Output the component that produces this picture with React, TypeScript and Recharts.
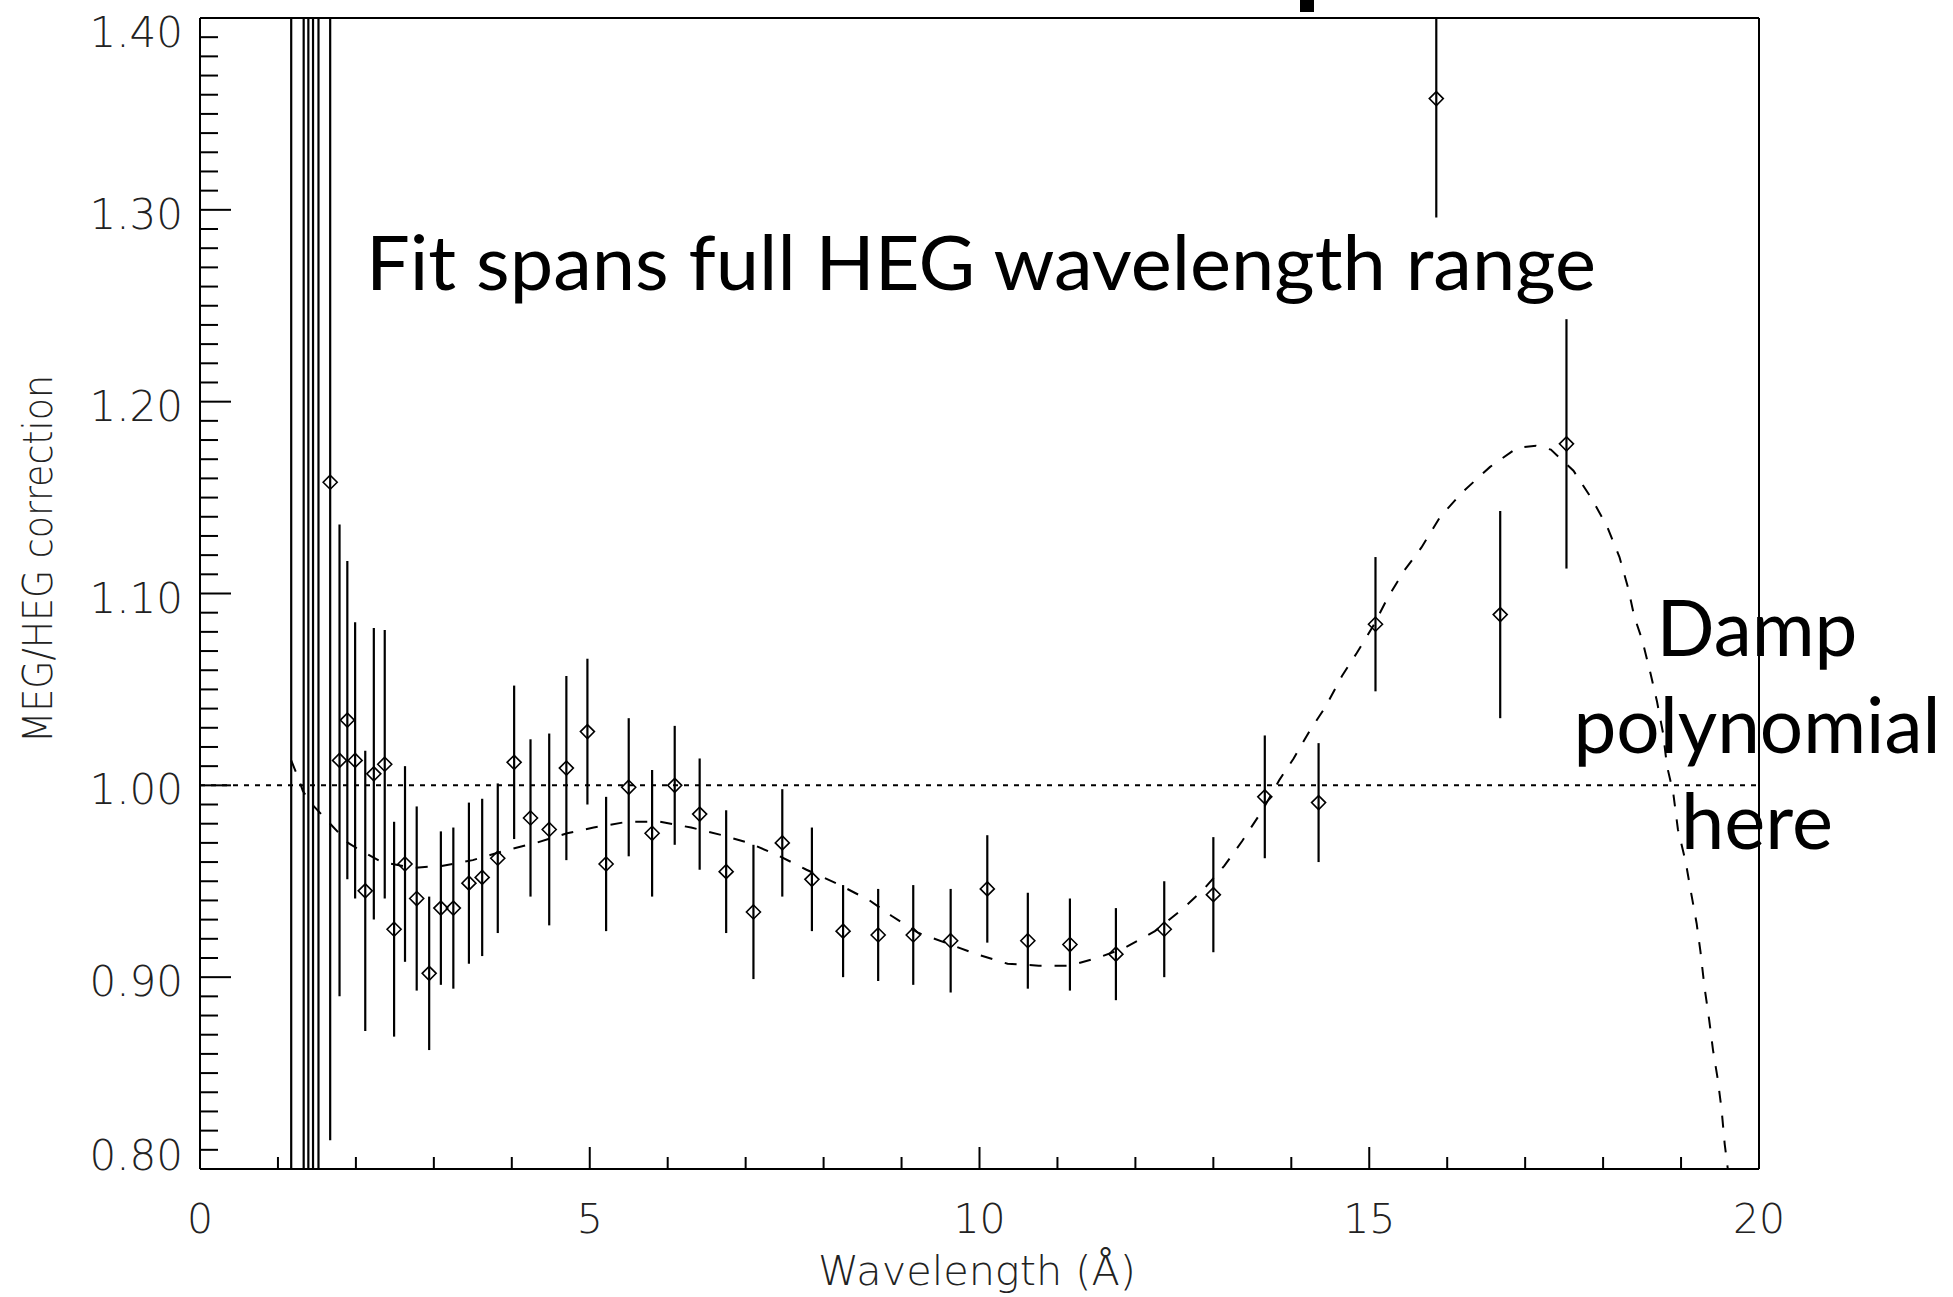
import React from 'react';
import {
  ComposedChart,
  Scatter,
  Line,
  XAxis,
  YAxis,
  ErrorBar,
  ReferenceLine
} from 'recharts';

// MEG/HEG ratio per wavelength bin (first five have centres off the plot)
const waveX = [
  1.17, 1.33, 1.39, 1.45, 1.52, 1.67, 1.79, 1.89, 1.99, 2.12,
  2.23, 2.37, 2.49, 2.63, 2.78, 2.94, 3.09, 3.25, 3.45, 3.62,
  3.82, 4.03, 4.24, 4.48, 4.70, 4.97, 5.21, 5.50, 5.80, 6.09,
  6.41, 6.75, 7.10, 7.47, 7.85, 8.25, 8.70, 9.15, 9.63, 10.10,
  10.62, 11.16, 11.75, 12.37, 13.00, 13.66, 14.35, 15.08, 15.86, 16.68,
  17.53
];
const ratioY = [
  1.78, 0.55, 1.66, 0.62, 1.52, 1.158, 1.013, 1.034, 1.013, 0.945,
  1.006, 1.011, 0.925, 0.959, 0.941, 0.902, 0.936, 0.936, 0.949, 0.952,
  0.962, 1.012, 0.983, 0.977, 1.009, 1.028, 0.959, 0.999, 0.975, 1.000,
  0.985, 0.955, 0.934, 0.970, 0.951, 0.924, 0.922, 0.922, 0.919, 0.946,
  0.919, 0.917, 0.912, 0.925, 0.943, 0.994, 0.991, 1.084, 1.358, 1.089,
  1.178
];
const ratioErr = [
  1.4, 0.95, 1.2, 0.85, 0.8, 0.343, 0.123, 0.083, 0.072, 0.073,
  0.076, 0.070, 0.056, 0.051, 0.048, 0.040, 0.040, 0.042, 0.042, 0.041,
  0.039, 0.040, 0.041, 0.050, 0.048, 0.038, 0.035, 0.036, 0.033, 0.031,
  0.029, 0.032, 0.035, 0.028, 0.027, 0.024, 0.024, 0.026, 0.027, 0.028,
  0.025, 0.024, 0.024, 0.025, 0.030, 0.032, 0.031, 0.035, 0.062, 0.054,
  0.065
];

// damped polynomial fit
const fitX = [
  1.17, 1.25, 1.32, 1.44, 1.67, 1.90, 2.02, 2.33, 2.73, 3.10,
  3.50, 3.91, 4.31, 4.71, 5.05, 5.48, 5.90, 6.30, 6.70, 7.04,
  7.44, 7.78, 8.16, 8.59, 8.87, 9.22, 9.56, 9.96, 10.36, 10.76,
  11.16, 11.51, 11.85, 12.25, 12.59, 12.88, 13.14, 13.37, 13.63, 13.85,
  14.03, 14.23, 14.44, 14.65, 14.84, 15.05, 15.24, 15.45, 15.67, 15.91,
  16.20, 16.55, 16.90, 17.14, 17.33, 17.62, 17.86, 18.05, 18.21, 18.32,
  18.40, 18.50, 18.61, 18.69, 18.77, 18.82, 18.90, 18.96, 19.06, 19.12,
  19.20, 19.25, 19.30, 19.36, 19.41, 19.47, 19.52, 19.56, 19.60
];
const fitY = [
  1.013, 1.005, 0.997, 0.990, 0.980, 0.970, 0.967, 0.960, 0.957, 0.958,
  0.961, 0.966, 0.970, 0.975, 0.978, 0.981, 0.981, 0.978, 0.974, 0.970,
  0.963, 0.956, 0.949, 0.940, 0.932, 0.923, 0.918, 0.912, 0.907, 0.906,
  0.906, 0.910, 0.915, 0.924, 0.935, 0.946, 0.958, 0.971, 0.987, 1.003,
  1.014, 1.028, 1.041, 1.057, 1.069, 1.083, 1.098, 1.112, 1.124, 1.140,
  1.153, 1.166, 1.176, 1.177, 1.175, 1.164, 1.149, 1.135, 1.119, 1.103,
  1.088, 1.076, 1.058, 1.044, 1.027, 1.010, 0.996, 0.977, 0.960, 0.946,
  0.928, 0.913, 0.895, 0.878, 0.862, 0.847, 0.831, 0.813, 0.800
];

const Y_MIN = 0.8;
const Y_MAX = 1.4;
const xTicks = Array.from({ length: 21 }, (_, i) => i);
const yTicks = Array.from({ length: 61 }, (_, i) => +(0.8 + i * 0.01).toFixed(2));

const points = waveX.map((x, i) => ({ x, y: ratioY[i] }));
// error bars stop at the frame, like the original plot: keep the visible part only
const bars = waveX.map((x, i) => {
  const lo = Math.max(ratioY[i] - ratioErr[i], Y_MIN);
  const hi = Math.min(ratioY[i] + ratioErr[i], Y_MAX);
  return { x, mid: (lo + hi) / 2, half: (hi - lo) / 2 };
});
const fit = fitX.map((x, i) => ({ x, fit: fitY[i] }));

const axisFont = '"DejaVu Sans", sans-serif';
const noteFont = 'Lato, "Open Sans", sans-serif';

const isMajorY = (v: number) => Math.round(v * 100) % 10 === 0;

const BottomTick = ({ x, y, payload }: any) => {
  const major = payload.value % 5 === 0;
  return (
    <g>
      <line x1={x} x2={x} y1={y} y2={y - (major ? 22 : 12)} stroke="#000" strokeWidth={2} />
      {major && (
        <text x={x} y={y + 64} textAnchor="middle" fontFamily={axisFont} fontWeight={200} fontSize={41} fill="#222">
          {payload.value}
        </text>
      )}
    </g>
  );
};

const TopTick = ({ x, y, payload }: any) => {
  const major = payload.value % 5 === 0;
  return <line x1={x} x2={x} y1={y} y2={y + (major ? 23 : 12)} stroke="#000" strokeWidth={2} />;
};

const LeftTick = ({ x, y, payload }: any) => {
  const v = payload.value;
  const major = isMajorY(v);
  let shift = 19;
  if (v >= 1.4) shift = 29;
  if (v <= 0.8) shift = 1;
  return (
    <g>
      <line x1={x} x2={x + (major ? 31 : 18)} y1={y} y2={y} stroke="#000" strokeWidth={2} />
      {major && (
        <text x={x - 17} y={y + shift} textAnchor="end" fontFamily={axisFont} fontWeight={200} fontSize={42} fill="#222">
          {v.toFixed(2)}
        </text>
      )}
    </g>
  );
};

const RightTick = ({ x, y, payload }: any) => {
  const major = isMajorY(payload.value);
  return <line x1={x} x2={x - (major ? 32 : 18)} y1={y} y2={y} stroke="#000" strokeWidth={2} />;
};

const Diamond = ({ cx, cy }: any) => {
  if (cx == null || cy == null) return null;
  return (
    <path
      d={`M${cx},${cy - 7}L${cx + 7},${cy}L${cx},${cy + 7}L${cx - 7},${cy}Z`}
      fill="none"
      stroke="#000"
      strokeWidth={1.6}
    />
  );
};

const NoMarker = () => null;

const frame = { stroke: '#000', strokeWidth: 2 };

export default function App() {
  return (
    <div style={{ position: 'absolute', left: 0, top: 0, width: 1953, height: 1297, background: '#fff' }}>
      <ComposedChart width={1953} height={1297} margin={{ top: 17, right: 193, bottom: 127, left: 199 }}>
        <XAxis
          xAxisId={0}
          type="number"
          dataKey="x"
          domain={[0, 20]}
          ticks={xTicks}
          interval={0}
          allowDataOverflow
          height={1}
          tickSize={0}
          tickMargin={0}
          tickLine={false}
          tick={<BottomTick />}
          axisLine={frame}
        />
        <XAxis
          xAxisId="t"
          orientation="top"
          type="number"
          domain={[0, 20]}
          ticks={xTicks}
          interval={0}
          height={1}
          tickSize={0}
          tickMargin={0}
          tickLine={false}
          tick={<TopTick />}
          axisLine={frame}
        />
        <YAxis
          yAxisId={0}
          type="number"
          domain={[Y_MIN, Y_MAX]}
          ticks={yTicks}
          interval={0}
          allowDataOverflow
          width={1}
          tickSize={0}
          tickMargin={0}
          tickLine={false}
          tick={<LeftTick />}
          axisLine={frame}
        />
        <YAxis
          yAxisId="r"
          orientation="right"
          type="number"
          domain={[Y_MIN, Y_MAX]}
          ticks={yTicks}
          interval={0}
          width={1}
          tickSize={0}
          tickMargin={0}
          tickLine={false}
          tick={<RightTick />}
          axisLine={frame}
        />
        <ReferenceLine y={1} stroke="#000" strokeWidth={2} strokeDasharray="5 6" />
        <Line
          data={fit}
          dataKey="fit"
          type="linear"
          stroke="#000"
          strokeWidth={2}
          strokeDasharray="12 13"
          dot={false}
          activeDot={false}
          isAnimationActive={false}
        />
        <Scatter data={bars} dataKey="mid" shape={<NoMarker />} isAnimationActive={false}>
          <ErrorBar dataKey="half" direction="y" width={0} stroke="#000" strokeWidth={2.2} />
        </Scatter>
        <Scatter data={points} dataKey="y" shape={<Diamond />} isAnimationActive={false} />

        <text x={52} y={559} transform="rotate(-90 52 559)" textAnchor="middle" fontFamily={axisFont} fontWeight={200}
          fontSize={41} fill="#222" textLength={368} lengthAdjust="spacingAndGlyphs">
          MEG/HEG correction
        </text>
        <text x={977} y={1285} textAnchor="middle" fontFamily={axisFont} fontWeight={200} fontSize={41} fill="#222"
          textLength={318} lengthAdjust="spacingAndGlyphs">
          Wavelength (Å)
        </text>
        <text x={366} y={290} fontFamily={noteFont} fontSize={75} fill="#000" textLength={1230} lengthAdjust="spacingAndGlyphs">
          Fit spans full HEG wavelength range
        </text>
        <text x={1757} y={656} textAnchor="middle" fontFamily={noteFont} fontSize={77} fill="#000" textLength={201} lengthAdjust="spacingAndGlyphs">
          Damp
        </text>
        <text x={1757} y={753} textAnchor="middle" fontFamily={noteFont} fontSize={77} fill="#000" textLength={367} lengthAdjust="spacingAndGlyphs">
          polynomial
        </text>
        <text x={1757} y={849} textAnchor="middle" fontFamily={noteFont} fontSize={77} fill="#000" textLength={152} lengthAdjust="spacingAndGlyphs">
          here
        </text>
        <rect x={1300} y={0} width={14} height={12} fill="#000" />
      </ComposedChart>
    </div>
  );
}
